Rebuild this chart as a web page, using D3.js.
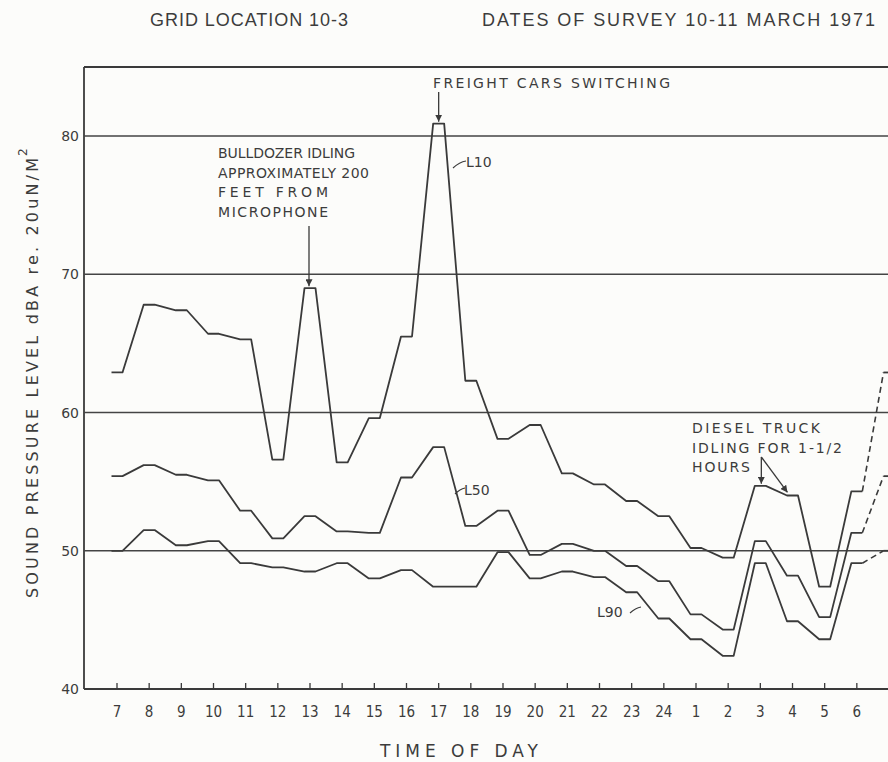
<!DOCTYPE html>
<html>
<head>
<meta charset="utf-8">
<script src="https://cdn.jsdelivr.net/npm/d3@7"></script>
<style>
  body { margin: 0; background: #fcfcfa; }
  svg { display: block; }
  text { fill: #3c3c3c; font-family: "DejaVu Sans", sans-serif; }
</style>
</head>
<body>
<div id="chart"></div>
<script>
// hours of the survey, 7 am on the 10th to 6 am on the 11th
var hours = ["7","8","9","10","11","12","13","14","15","16","17","18","19","20","21","22","23","24","1","2","3","4","5","6"];

// dBA levels, one per hour
var l10 = [62.9,67.8,67.4,65.7,65.3,56.6,69.0,56.4,59.6,65.5,80.9,62.3,58.1,59.1,55.6,54.8,53.6,52.5,50.2,49.5,54.7,54.0,47.4,54.3];
var l50 = [55.4,56.2,55.5,55.1,52.9,50.9,52.5,51.4,51.3,55.3,57.5,51.8,52.9,49.7,50.5,50.0,48.9,47.8,45.4,44.3,50.7,48.2,45.2,51.3];
var l90 = [50.0,51.5,50.4,50.7,49.1,48.8,48.5,49.1,48.0,48.6,47.4,47.4,49.9,48.0,48.5,48.1,47.0,45.1,43.6,42.4,49.1,44.9,43.6,49.1];

var yTicks = [40, 50, 60, 70, 80];
var gridVals = [50, 60, 70, 80];

var width = 888, height = 762;
var plotLeft = 84, plotTop = 67, plotBottom = 689;
var plateau = 5.5;  // flat run drawn at each hourly reading

var svg = d3.select("#chart").append("svg")
  .attr("width", width)
  .attr("height", height);

// x: hour index, 24 = 7 am next day (just off the right edge)
var x = d3.scaleLinear().domain([0, 24]).range([117, 889]);
var y = d3.scaleLinear().domain([40, 85]).range([plotBottom, plotTop]);

var ink = "#3a3a3a";

// frame
svg.append("line").attr("x1", plotLeft).attr("x2", plotLeft).attr("y1", plotTop).attr("y2", plotBottom)
  .attr("stroke", ink).attr("stroke-width", 1.8);
svg.append("line").attr("x1", plotLeft).attr("x2", width + 10).attr("y1", plotTop).attr("y2", plotTop)
  .attr("stroke", ink).attr("stroke-width", 1.8);
svg.append("line").attr("x1", plotLeft).attr("x2", width + 10).attr("y1", plotBottom).attr("y2", plotBottom)
  .attr("stroke", ink).attr("stroke-width", 1.8);

// horizontal rules
svg.selectAll(".grid").data(gridVals).enter().append("line")
  .attr("x1", plotLeft).attr("x2", width + 10)
  .attr("y1", d => y(d)).attr("y2", d => y(d))
  .attr("stroke", "#444").attr("stroke-width", 1.5);

// y labels
svg.selectAll(".ylab").data(yTicks).enter().append("text")
  .attr("x", plotLeft - 5).attr("y", d => y(d) + 5)
  .attr("text-anchor", "end")
  .style("font-size", "14px")
  .text(d => d);

// x ticks and labels
svg.selectAll(".xtick").data(hours).enter().append("line")
  .attr("x1", (d, i) => x(i)).attr("x2", (d, i) => x(i))
  .attr("y1", plotBottom).attr("y2", plotBottom - 6)
  .attr("stroke", ink).attr("stroke-width", 1.3);
svg.selectAll(".xlab").data(hours).enter().append("text")
  .attr("x", (d, i) => x(i)).attr("y", 717)
  .attr("text-anchor", "middle")
  .style("font-family", "'DejaVu Sans Condensed', sans-serif")
  .style("font-size", "15px")
  .text(d => d);

// series lines
var line = d3.line().x(d => d[0]).y(d => d[1]);

function drawSeries(vals) {
  var pts = [];
  vals.forEach(function(v, i) {
    pts.push([x(i) - plateau, y(v)]);
    pts.push([x(i) + plateau, y(v)]);
  });
  svg.append("path").attr("d", line(pts))
    .attr("fill", "none").attr("stroke", ink).attr("stroke-width", 1.8)
    .attr("stroke-linejoin", "round");
  // wrap-around to 7 am next day, dashed
  var n = vals.length - 1;
  svg.append("path").attr("d", line([[x(n) + plateau, y(vals[n])], [x(n + 1) - plateau, y(vals[0])]]))
    .attr("fill", "none").attr("stroke", ink).attr("stroke-width", 1.6)
    .attr("stroke-dasharray", "6,4");
  svg.append("path").attr("d", line([[x(n + 1) - plateau, y(vals[0])], [x(n + 1) + plateau, y(vals[0])]]))
    .attr("fill", "none").attr("stroke", ink).attr("stroke-width", 1.8);
}
drawSeries(l10);
drawSeries(l50);
drawSeries(l90);

// titles
svg.append("text").attr("x", 150).attr("y", 26)
  .attr("textLength", 198).attr("lengthAdjust", "spacing")
  .style("font-family", "'Liberation Sans Narrow', sans-serif")
  .style("font-size", "18px")
  .text("GRID LOCATION 10-3");
svg.append("text").attr("x", 482).attr("y", 26)
  .attr("textLength", 393).attr("lengthAdjust", "spacing")
  .style("font-family", "'Liberation Sans Narrow', sans-serif")
  .style("font-size", "18px")
  .text("DATES OF SURVEY 10-11 MARCH 1971");

// axis titles
svg.append("text").attr("x", 380).attr("y", 757)
  .attr("textLength", 158).attr("lengthAdjust", "spacing")
  .style("font-size", "17px")
  .text("TIME OF DAY");
var yt = svg.append("g").attr("transform", "translate(38,598) rotate(-90)");
yt.append("text").attr("x", 0).attr("y", 0)
  .attr("textLength", 440).attr("lengthAdjust", "spacing")
  .style("font-size", "16px")
  .text("SOUND PRESSURE LEVEL dBA re. 20uN/M");
yt.append("text").attr("x", 442).attr("y", -11)
  .style("font-size", "12px")
  .text("2");

// annotations
function note(lines, x0, y0, dy, widths) {
  lines.forEach(function(t, i) {
    svg.append("text").attr("x", x0).attr("y", y0 + i * dy)
      .attr("textLength", widths[i]).attr("lengthAdjust", "spacing")
      .style("font-size", "14px")
      .text(t);
  });
}
note(["FREIGHT CARS SWITCHING"], 433, 88, 0, [237]);
note(["BULLDOZER IDLING", "APPROXIMATELY 200", "FEET FROM", "MICROPHONE"], 218, 158, 19.5, [137, 151, 110, 110]);
note(["DIESEL TRUCK", "IDLING FOR 1-1/2", "HOURS"], 692, 433, 19.5, [128, 150, 58]);

svg.append("defs").append("marker")
  .attr("id", "arr").attr("viewBox", "0 0 10 10")
  .attr("refX", 10).attr("refY", 5)
  .attr("markerWidth", 7).attr("markerHeight", 7)
  .attr("markerUnits", "userSpaceOnUse")
  .attr("orient", "auto")
  .append("path").attr("d", "M0,0L10,5L0,10z").attr("fill", ink);

function arrow(x1, y1, x2, y2) {
  svg.append("line").attr("x1", x1).attr("y1", y1).attr("x2", x2).attr("y2", y2)
    .attr("stroke", ink).attr("stroke-width", 1.3)
    .attr("marker-end", "url(#arr)");
}
arrow(x(10), 92, x(10), y(l10[10]) - 2);
arrow(x(6) - 1, 226, x(6) - 1, y(l10[6]) - 2);
arrow(x(20) + 1, 457, x(20) + 1, y(l10[20]) - 2);
arrow(x(20) + 1, 457, x(21) - 5, y(l10[21]) - 3);

// series labels with leaders
function tag(txt, tx, ty, lx1, ly1, lx2, ly2) {
  svg.append("text").attr("x", tx).attr("y", ty)
    .style("font-size", "14px").text(txt);
  svg.append("path").attr("d", "M" + lx1 + "," + ly1 + "Q" + ((lx1 + lx2) / 2) + "," + (ly2 + 1) + " " + lx2 + "," + ly2)
    .attr("fill", "none").attr("stroke", ink).attr("stroke-width", 1.1);
}
tag("L10", 466, 167, 453, 168, 466, 161);
tag("L50", 464, 495, 455, 494, 465, 488);
tag("L90", 597, 617, 630, 613, 641, 607);
</script>
</body>
</html>
